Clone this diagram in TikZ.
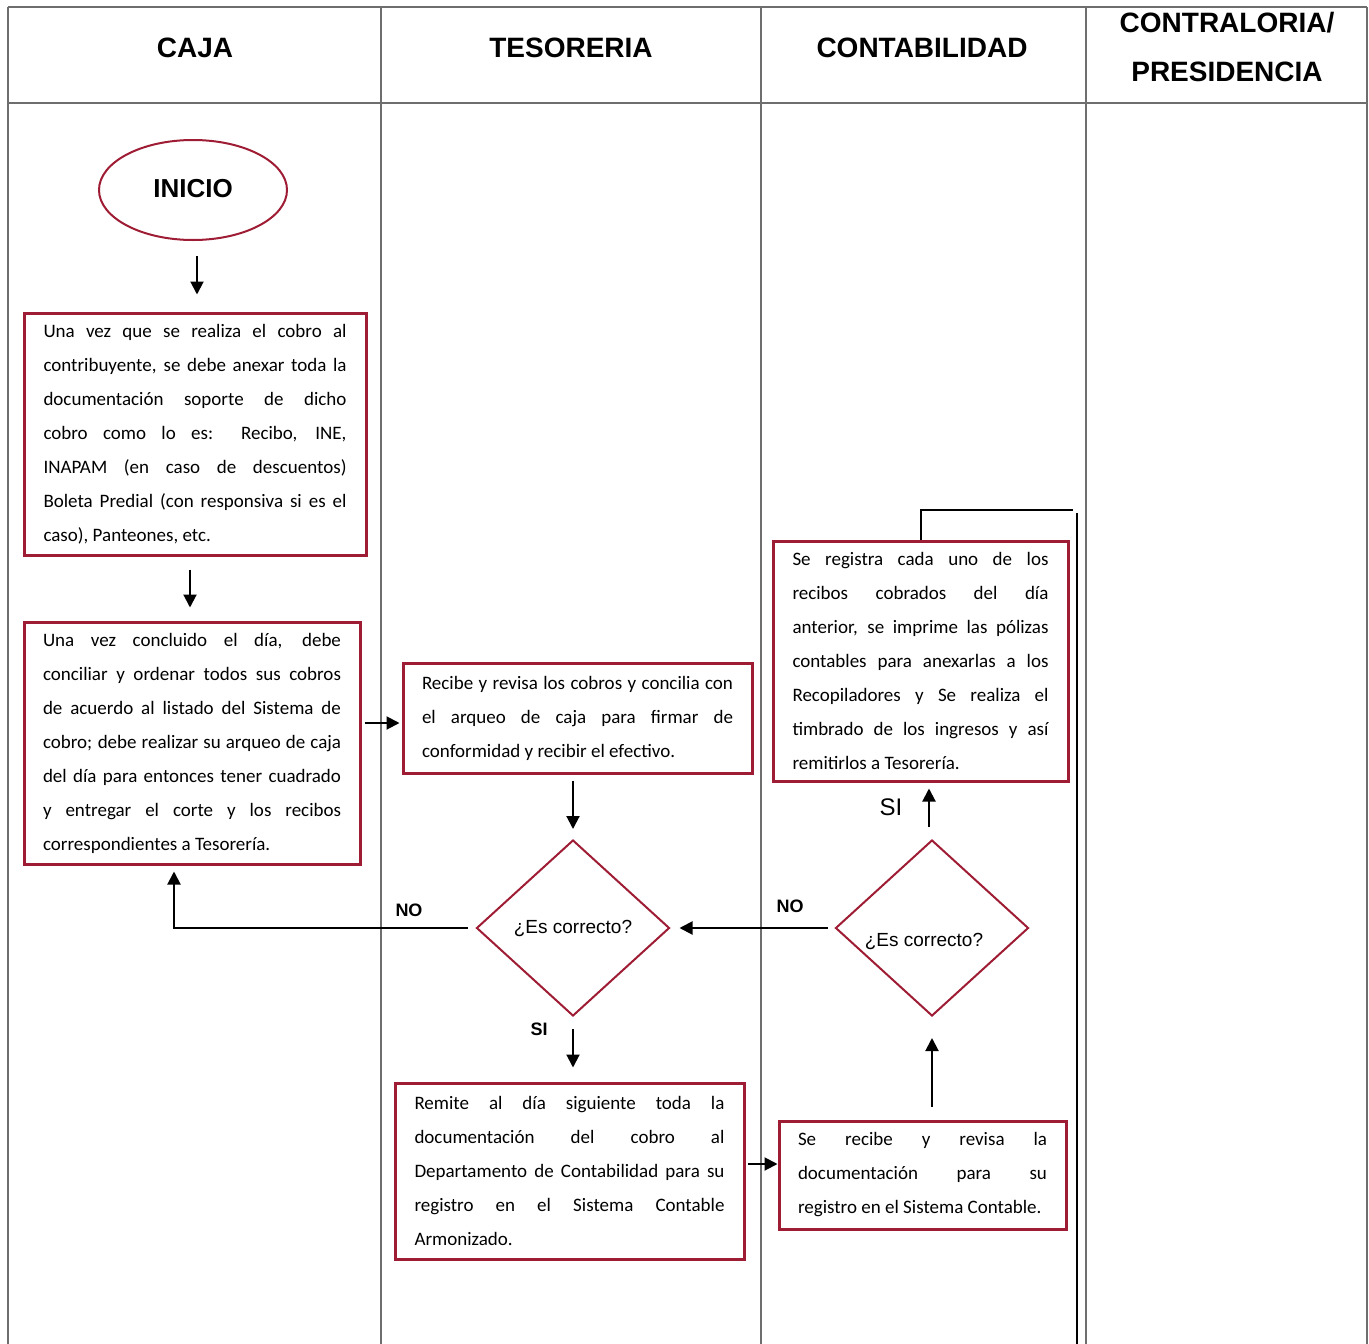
\documentclass[tikz,border=0pt]{standalone}
\usepackage{fontspec}
\setmainfont{Carlito}
\newfontfamily\arialfont{Liberation Sans}
\usepackage{xcolor}
\usetikzlibrary{arrows.meta, positioning, shapes.geometric}
\definecolor{boxRed}{RGB}{158,28,52}
\definecolor{laneGray}{RGB}{110,110,110}
\tikzset{
    procBox/.style={draw=boxRed, line width=3pt, fill=white, align=justify, inner sep=0pt, font=\fontsize{19}{34}\selectfont},
    decBox/.style={diamond, draw=boxRed, line width=2pt, inner sep=0pt, minimum width=193pt, minimum height=176pt, font=\arialfont\fontsize{19}{22}\selectfont},
    laneHead/.style={font=\arialfont\bfseries\fontsize{28}{49}\selectfont, align=center},
    flowLbl/.style={font=\arialfont\bfseries\fontsize{18}{20}\selectfont},
    flowLine/.style={line width=2pt},
    laneLine/.style={draw=laneGray, line width=1.3pt}
}
\hbadness=10000

\begin{document}
\begin{tikzpicture}[x=1pt, y=-1pt, >={Triangle[length=13pt, width=13pt]}]
    \useasboundingbox (0,0) rectangle (1369,1344);
    % swimlanes
    \draw[laneLine] (8,7) -- (1367,7);
    \draw[laneLine] (8,103) -- (1367,103);
    \foreach \x in {8,381,761,1086,1367}
        \draw[laneLine] (\x,7) -- (\x,1344);
    \node[laneHead] (HeadCaja) at (195,48) {CAJA};
    \node[laneHead] (HeadTes) at (571,48) {TESORERIA};
    \node[laneHead] (HeadCon) at (922,48) {CONTABILIDAD};
    \node[laneHead] (HeadPres) at (1227,47) {CONTRALORIA/\\PRESIDENCIA};

    % caja
    \node[ellipse, draw=boxRed, line width=2pt, minimum width=188pt, minimum height=100pt,
          font=\arialfont\bfseries\fontsize{26}{30}\selectfont] (Inicio) at (193,190) {\raisebox{3pt}{INICIO}};
    \node[procBox, text width=303pt, minimum width=342pt, minimum height=242pt] (BoxCobro) at (195,434)
        {Una vez que se realiza el cobro al\linebreak
         contribuyente, se debe anexar toda la\linebreak
         documentación soporte de dicho\linebreak
         cobro como lo es: Recibo, INE,\linebreak
         INAPAM (en caso de descuentos)\linebreak
         Boleta Predial (con responsiva si es el\linebreak
         caso), Panteones, etc.};
    \node[procBox, text width=298pt, minimum width=336pt, minimum height=242pt] (BoxCierre) at (192,743)
        {Una vez concluido el día, debe\linebreak
         conciliar y ordenar todos sus cobros\linebreak
         de acuerdo al listado del Sistema de\linebreak
         cobro; debe realizar su arqueo de caja\linebreak
         del día para entonces tener cuadrado\linebreak
         y entregar el corte y los recibos\linebreak
         correspondientes a Tesorería.};

    % tesoreria
    \node[procBox, text width=311pt, minimum width=349pt, minimum height=110pt] (BoxArqueo) at (577.5,718)
        {Recibe y revisa los cobros y concilia con\linebreak
         el arqueo de caja para firmar de\linebreak
         conformidad y recibir el efectivo.};
    \node[decBox] (DiaTes) at (573,928) {¿Es correcto?};
    \node[procBox, text width=310pt, minimum width=349pt, minimum height=176pt] (BoxRemite) at (569.5,1171)
        {Remite al día siguiente toda la\linebreak
         documentación del cobro al\linebreak
         Departamento de Contabilidad para su\linebreak
         registro en el Sistema Contable\linebreak
         Armonizado.};

    % contabilidad
    \node[procBox, text width=256pt, minimum width=295pt, minimum height=240pt] (BoxPoliza) at (920.5,661)
        {Se registra cada uno de los\linebreak
         recibos cobrados del día\linebreak
         anterior, se imprime las pólizas\linebreak
         contables para anexarlas a los\linebreak
         Recopiladores y Se realiza el\linebreak
         timbrado de los ingresos y así\linebreak
         remitirlos a Tesorería.};
    \node[decBox] (DiaCon) at (932,928) {};
    \node[font=\arialfont\fontsize{19}{22}\selectfont] (DiaConTxt) at (924,941) {¿Es correcto?};
    \node[procBox, text width=249pt, minimum width=287pt, minimum height=108pt] (BoxRecibe) at (922.5,1175)
        {Se recibe y revisa la\linebreak
         documentación para su\linebreak
         registro en el Sistema Contable.};

    % labels
    \node[flowLbl] (NoTes) at (409,910) {NO};
    \node[flowLbl] (SiTes) at (539,1029) {SI};
    \node[flowLbl] (NoCon) at (790,906) {NO};
    \node[font=\arialfont\fontsize{24}{26}\selectfont] (SiCon) at (891,807) {SI};

    % connectors
    \draw[flowLine, ->, shorten <=15pt, shorten >=17pt] ([xshift=4pt]Inicio.south) -- ([xshift=4pt]Inicio.south |- BoxCobro.north);
    \draw[flowLine, ->, shorten <=13pt, shorten >=13pt] ([xshift=-2pt]BoxCierre.north |- BoxCobro.south) -- ([xshift=-2pt]BoxCierre.north);
    \draw[flowLine, ->, shorten <=3pt, shorten >=2pt] ([yshift=-5pt]BoxArqueo.west -| BoxCierre.east) -- ([yshift=-5pt]BoxArqueo.west);
    \draw[flowLine, ->, shorten <=6pt, shorten >=10pt] (DiaTes.north |- BoxArqueo.south) -- (DiaTes.north);
    \draw[flowLine, ->, shorten <=8pt, shorten >=6pt] (DiaTes.west) -| ([xshift=-18pt]BoxCierre.south);
    \draw[flowLine, ->, shorten <=12pt, shorten >=14pt] (DiaTes.south) -- (DiaTes.south |- BoxRemite.north);
    \draw[flowLine, ->, shorten <=2pt] ([yshift=7pt]BoxRemite.east) -- ([yshift=7pt]BoxRemite.east -| BoxRecibe.west);
    \draw[flowLine, ->, shorten <=13pt, shorten >=21pt] (DiaCon.south |- BoxRecibe.north) -- (DiaCon.south);
    \draw[flowLine, ->, shorten <=7pt, shorten >=9pt] (DiaCon.west) -- (DiaTes.east);
    \draw[flowLine, ->, shorten <=12pt, shorten >=6pt] ([xshift=-3pt]DiaCon.north) -- ([xshift=-3pt]DiaCon.north |- BoxPoliza.south);
    \coordinate (PolizaEnd) at (1073,510);
    \draw[flowLine] (BoxPoliza.north) |- (PolizaEnd);
    \coordinate (RetTop) at (1077,513);
    \coordinate (RetBot) at (1077,1344);
    \draw[flowLine] (RetTop) -- (RetBot);
\end{tikzpicture}
\end{document}
